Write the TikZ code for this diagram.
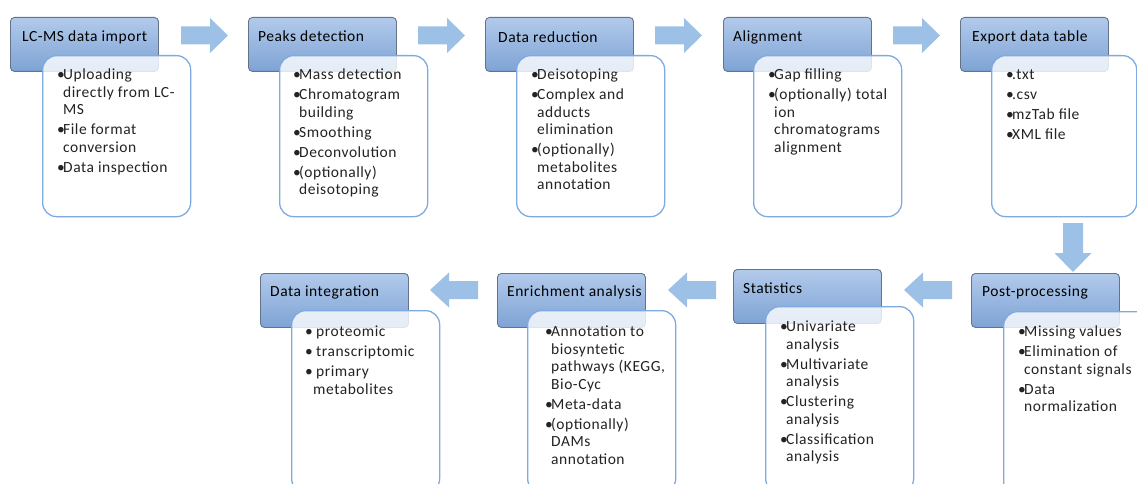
\documentclass[tikz,border=0pt]{standalone}
\usepackage{fontspec}
\setmainfont{Carlito}[LetterSpace=3.5]
\definecolor{hdrtop}{RGB}{178,202,235}
\definecolor{hdrbot}{RGB}{126,163,212}
\definecolor{hdrborder}{RGB}{100,115,135}
\definecolor{bodyborder}{RGB}{125,170,225}
\definecolor{arrowfill}{RGB}{157,192,230}
\definecolor{textcol}{RGB}{35,35,35}
\newcommand\bu{\makebox[6pt][l]{•}}
\newcommand\ind{\hspace*{6pt}}
\newcommand\bsp{\\[2.5pt]}
\tikzset{
  hdr/.style={draw=hdrborder, line width=0.9pt, rounded corners=4pt, top color=hdrtop, bottom color=hdrbot,
    minimum width=148pt, minimum height=54pt, anchor=north west, inner sep=0pt},
  bodybox/.style={draw=bodyborder, line width=1.3pt, rounded corners=14pt, fill=white, fill opacity=0.8,
    minimum width=148pt, anchor=north west, inner sep=0pt},
  htext/.style={anchor=west, inner sep=0pt, font=\fontsize{15.5}{17.5}\selectfont, text=black},
  btext/.style={anchor=north west, inner sep=0pt, align=left, font=\fontsize{15.5}{17.5}\selectfont, text=textcol},
  rarr/.pic={\fill[arrowfill] (0,-9) -- (29,-9) -- (29,-17.5) -- (47,0) -- (29,17.5) -- (29,9) -- (0,9) -- cycle;},
  larr/.pic={\fill[arrowfill] (0,-9) -- (-29,-9) -- (-29,-17.5) -- (-48,0) -- (-29,17.5) -- (-29,9) -- (0,9) -- cycle;},
  darr/.pic={\fill[arrowfill] (-10,0) -- (10,0) -- (10,30) -- (18.5,30) -- (0,49) -- (-18.5,30) -- (-10,30) -- cycle;}
}
\begin{document}
\begin{tikzpicture}[x=1pt,y=-1pt]
\useasboundingbox (0,0) rectangle (1137,484);
\clip (0,0) rectangle (1137,484);
% headers
\node[hdr] (h1) at (10,17) {};
\node[hdr] (h2) at (248,17) {};
\node[hdr] (h3) at (485,17) {};
\node[hdr] (h4) at (723,17) {};
\node[hdr] (h5) at (960,17) {};
\node[hdr] (h6) at (971,273) {};
\node[hdr] (h7) at (733,269) {};
\node[hdr] (h8) at (497,273) {};
\node[hdr] (h9) at (260,273) {};
% bodies
\node[bodybox, minimum height=161pt] (b1) at (42,55) {};
\node[bodybox, minimum height=161pt] (b2) at (279,55) {};
\node[bodybox, minimum height=161pt] (b3) at (516,55) {};
\node[bodybox, minimum height=161pt] (b4) at (753,55) {};
\node[bodybox, minimum height=161pt, minimum width=145pt] (b5) at (991,55) {};
\node[bodybox, minimum height=185pt, minimum width=150pt] (b6) at (1003,311) {};
\node[bodybox, minimum height=186pt] (b7) at (765,306) {};
\node[bodybox, minimum height=182pt] (b8) at (527,310) {};
\node[bodybox, minimum height=182pt] (b9) at (291,310) {};
% header labels
\node[htext] (t1) at (22,37) {LC-MS data import};
\node[htext] (t2) at (258,36) {Peaks detection};
\node[htext] (t3) at (498,37) {Data reduction};
\node[htext] (t4) at (733,37) {Alignment};
\node[htext] (t5) at (972,37) {Export data table};
\node[htext] (t6) at (982,292) {Post-processing};
\node[htext] (t7) at (743,288) {Statistics};
\node[htext] (t8) at (507,292) {Enrichment analysis};
\node[htext] (t9) at (270,292) {Data integration};
% body texts
\node[btext] (c1) at (57,69) {\bu Uploading\\ \ind directly from LC-\\ \ind MS\bsp \bu File format\\ \ind conversion\bsp \bu Data inspection};
\node[btext] (c2) at (293,69) {\bu Mass detection\bsp \bu Chromatogram\\ \ind building\bsp \bu Smoothing\bsp \bu Deconvolution\bsp \bu (optionally)\\ \ind deisotoping};
\node[btext] (c3) at (531,69) {\bu Deisotoping\bsp \bu Complex and\\ \ind adducts\\ \ind elimination\bsp \bu (optionally)\\ \ind metabolites\\ \ind annotation};
\node[btext] (c4) at (768,69) {\bu Gap filling\bsp \bu (optionally) total\\ \ind ion\\ \ind chromatograms\\ \ind alignment};
\node[btext] (c5) at (1006,69) {\bu .txt\bsp \bu .csv\bsp \bu mzTab file\bsp \bu XML file};
\node[btext] (c6) at (1018,326) {\bu Missing values\bsp \bu Elimination of\\ \ind constant signals\bsp \bu Data\\ \ind normalization};
\node[btext] (c7) at (780,321) {\bu Univariate\\ \ind analysis\bsp \bu Multivariate\\ \ind analysis\bsp \bu Clustering\\ \ind analysis\bsp \bu Classification\\ \ind analysis};
\node[btext] (c8) at (545,326) {\bu Annotation to\\ \ind biosyntetic\\ \ind pathways (KEGG,\\ \ind Bio-Cyc\bsp \bu Meta-data\bsp \bu (optionally)\\ \ind DAMs\\ \ind annotation};
\node[btext] (c9) at (305,326) {\makebox[11pt][l]{•}proteomic\bsp \makebox[11pt][l]{•}transcriptomic\bsp \makebox[11pt][l]{•}primary\\ \hspace*{8pt}metabolites};
% block arrows
\pic at (181,35.5) {rarr};
\pic at (418,35.5) {rarr};
\pic at (655,35.5) {rarr};
\pic at (893,35.5) {rarr};
\pic at (1073,223) {darr};
\pic at (952,290) {larr};
\pic at (716,290) {larr};
\pic at (478,290) {larr};
\end{tikzpicture}
\end{document}
